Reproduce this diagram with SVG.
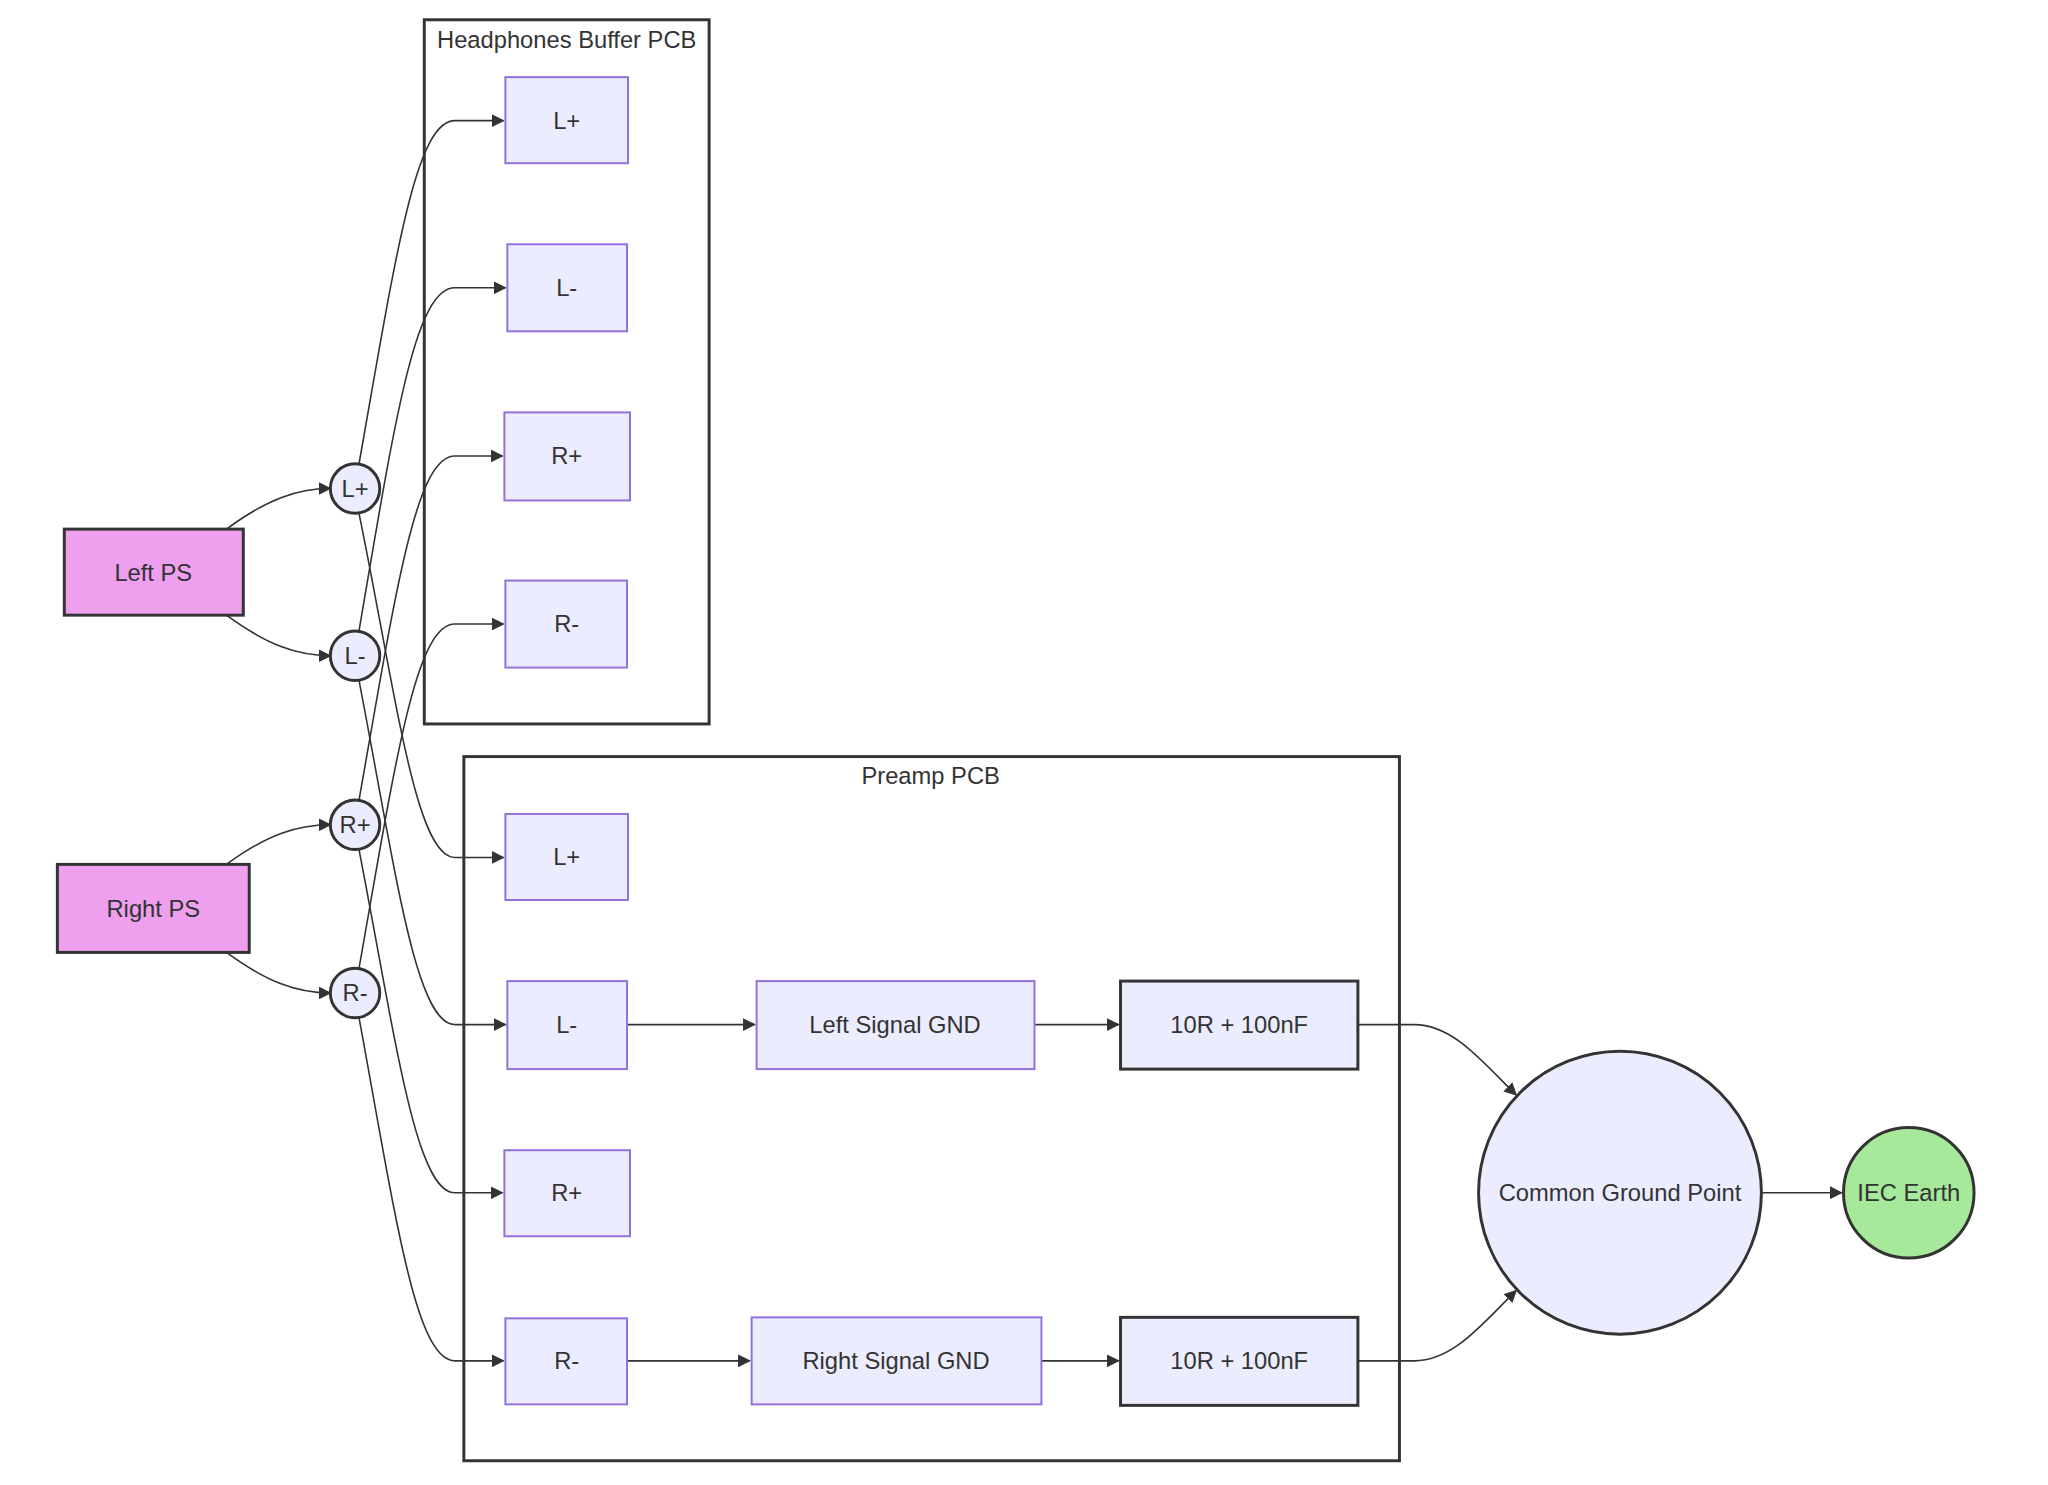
<svg xmlns="http://www.w3.org/2000/svg" width="2048" height="1485" viewBox="0 0 2048 1485">
<style>
text{font-family:"Liberation Sans",Arial,sans-serif;font-size:24px;fill:#333;text-anchor:middle;dominant-baseline:central}
.n{fill:#ECECFF;stroke:#9370DB;stroke-width:2}
.b{fill:#ECECFF;stroke:#333;stroke-width:3}
.ps{fill:#EE9FEE;stroke:#333;stroke-width:3}
.cl{fill:none;stroke:#333;stroke-width:3}
.e{fill:none;stroke:#333;stroke-width:1.6;marker-end:url(#a)}
</style>
<defs><marker id="a" viewBox="0 0 10 10" refX="9" refY="5" markerWidth="13" markerHeight="13" orient="auto" markerUnits="userSpaceOnUse"><path d="M0,0L10,5L0,10z" fill="#333"/></marker></defs>
<rect width="2048" height="1485" fill="#fff"/>
<g transform="scale(0.989)">
<g id="hb"><rect class="cl" x="429" y="20" width="288" height="712"/><text x="573" y="40">Headphones Buffer PCB</text></g>
<g id="pre"><rect class="cl" x="469" y="765" width="946" height="712"/><text x="941" y="785">Preamp PCB</text></g>
<g id="edges">
<path class="e" d="M229,535 C270,505 300,494 334,494"/>
<path class="e" d="M229,622 C270,652 300,663 334,663"/>
<path class="e" d="M229,874 C270,844 300,834 334,834"/>
<path class="e" d="M229,963 C270,993 300,1004 334,1004"/>
<path class="e" d="M363,469 C400,260 420,122 460,122 L509,122"/>
<path class="e" d="M363,519 C400,700 420,867 460,867 L509,867"/>
<path class="e" d="M363,638 C400,420 420,291 460,291 L511,291"/>
<path class="e" d="M363,688 C400,880 420,1036 460,1036 L511,1036"/>
<path class="e" d="M363,809 C400,600 420,461 460,461 L508,461"/>
<path class="e" d="M363,859 C400,1050 420,1206 460,1206 L508,1206"/>
<path class="e" d="M363,979 C400,770 420,631 460,631 L509,631"/>
<path class="e" d="M363,1029 C400,1230 420,1376 460,1376 L509,1376"/>
<path class="e" d="M634,1036 L763,1036"/>
<path class="e" d="M1046,1036 L1131,1036"/>
<path class="e" d="M634,1376 L758,1376"/>
<path class="e" d="M1053,1376 L1131,1376"/>
<path class="e" d="M1373,1036 L1430,1036 C1470,1036 1500,1075 1533,1107"/>
<path class="e" d="M1373,1376 L1430,1376 C1470,1376 1500,1337 1533,1305"/>
<path class="e" d="M1781,1206 L1862,1206"/>
</g>
<g id="leftps"><rect class="ps" x="65" y="535" width="181" height="87"/><text x="155" y="579">Left PS</text></g>
<g id="rightps"><rect class="ps" x="58" y="874" width="194" height="89"/><text x="155" y="919">Right PS</text></g>
<g id="cLp"><circle class="b" cx="359" cy="494" r="25"/><text x="359" y="494">L+</text></g>
<g id="cLm"><circle class="b" cx="359" cy="663" r="25"/><text x="359" y="663">L-</text></g>
<g id="cRp"><circle class="b" cx="359" cy="834" r="25"/><text x="359" y="834">R+</text></g>
<g id="cRm"><circle class="b" cx="359" cy="1004" r="25"/><text x="359" y="1004">R-</text></g>
<g id="hbLp"><rect class="n" x="511" y="78" width="124" height="87"/><text x="573" y="122">L+</text></g>
<g id="hbLm"><rect class="n" x="513" y="247" width="121" height="88"/><text x="573" y="291">L-</text></g>
<g id="hbRp"><rect class="n" x="510" y="417" width="127" height="89"/><text x="573" y="461">R+</text></g>
<g id="hbRm"><rect class="n" x="511" y="587" width="123" height="88"/><text x="573" y="631">R-</text></g>
<g id="prLp"><rect class="n" x="511" y="823" width="124" height="87"/><text x="573" y="867">L+</text></g>
<g id="prLm"><rect class="n" x="513" y="992" width="121" height="89"/><text x="573" y="1036">L-</text></g>
<g id="prRp"><rect class="n" x="510" y="1163" width="127" height="87"/><text x="573" y="1206">R+</text></g>
<g id="prRm"><rect class="n" x="511" y="1333" width="123" height="87"/><text x="573" y="1376">R-</text></g>
<g id="lsg"><rect class="n" x="765" y="992" width="281" height="89"/><text x="905" y="1036">Left Signal GND</text></g>
<g id="rsg"><rect class="n" x="760" y="1332" width="293" height="88"/><text x="906" y="1376">Right Signal GND</text></g>
<g id="f1"><rect class="b" x="1133" y="992" width="240" height="89"/><text x="1253" y="1036">10R + 100nF</text></g>
<g id="f2"><rect class="b" x="1133" y="1332" width="240" height="89"/><text x="1253" y="1376">10R + 100nF</text></g>
<g id="cgp"><circle class="b" cx="1638" cy="1206" r="143"/><text x="1638" y="1206">Common Ground Point</text></g>
<g id="iec"><circle cx="1930" cy="1206" r="66" fill="#A6E99A" stroke="#333" stroke-width="3"/><text x="1930" y="1206">IEC Earth</text></g>
</g>
</svg>
